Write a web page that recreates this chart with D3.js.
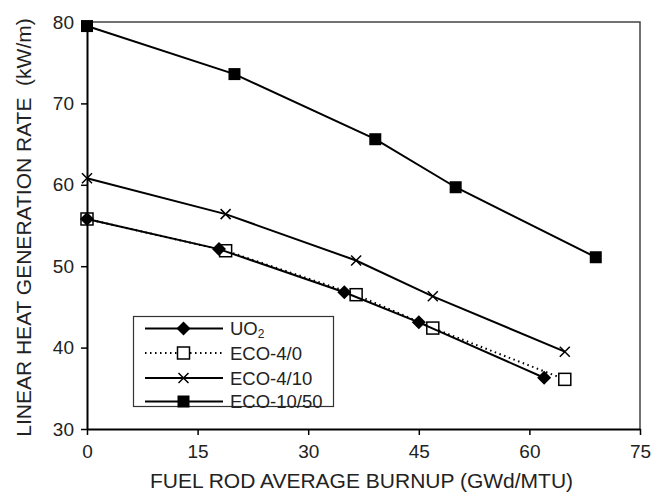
<!DOCTYPE html>
<html>
<head>
<meta charset="utf-8">
<script src="https://cdn.jsdelivr.net/npm/d3@7"></script>
<style>
  html, body { margin: 0; padding: 0; background: #fff; }
  svg { display: block; font-family: "Liberation Sans", Arial, sans-serif; }
</style>
</head>
<body>
<svg id="chart" width="652" height="494"></svg>
<script>
// ---- data ----
const xTicks = [0, 15, 30, 45, 60, 75];
const yTicks = [30, 40, 50, 60, 70, 80];
const seriesNames = ["UO2", "ECO-4/0", "ECO-4/10", "ECO-10/50"];
const burnupUO2 = [0, 17.9, 34.9, 45.0, 62.0];
const rateUO2 = [55.8, 52.1, 46.8, 43.1, 36.3];
const burnupECO40 = [0, 18.8, 36.5, 46.9, 64.8];
const rateECO40 = [55.8, 51.9, 46.5, 42.4, 36.1];
const burnupECO410 = [0, 18.8, 36.5, 46.9, 64.8];
const rateECO410 = [60.8, 56.4, 50.7, 46.3, 39.5];
const burnupECO1050 = [0, 20.0, 39.1, 50.0, 69.0];
const rateECO1050 = [79.5, 73.6, 65.6, 59.7, 51.1];
const xTitle = "FUEL ROD AVERAGE BURNUP (GWd/MTU)";
const yTitle = "LINEAR HEAT GENERATION RATE  (kW/m)";

const series = [
  { name: seriesNames[0], x: burnupUO2, y: rateUO2, marker: "diamond", dash: null, z: 3 },
  { name: seriesNames[1], x: burnupECO40, y: rateECO40, marker: "openSquare", dash: "1.5,3.5", z: 2 },
  { name: seriesNames[2], x: burnupECO410, y: rateECO410, marker: "cross", dash: null, z: 1 },
  { name: seriesNames[3], x: burnupECO1050, y: rateECO1050, marker: "square", dash: null, z: 0 }
];

const W = 652, H = 494;
const margin = { left: 87, top: 22, right: 12, bottom: 65 };
const svg = d3.select("#chart");

const x = d3.scaleLinear().domain([0, 75]).range([margin.left, W - margin.right]);
const y = d3.scaleLinear().domain([30, 80]).range([H - margin.bottom, margin.top]);

// plot frame (top/right)
svg.append("path")
  .attr("d", `M${x(0)},${y(80)} H${x(75)} V${y(30)}`)
  .attr("fill", "none").attr("stroke", "#444").attr("stroke-width", 1.5);

// axes
const xAxis = svg.append("g")
  .attr("transform", `translate(0,${y(30)})`)
  .call(d3.axisBottom(x).tickValues(xTicks).tickSize(6).tickSizeOuter(0).tickPadding(10));
const yAxis = svg.append("g")
  .attr("transform", `translate(${x(0)},0)`)
  .call(d3.axisLeft(y).tickValues(yTicks).tickSize(6).tickSizeOuter(0).tickPadding(7));
[xAxis, yAxis].forEach(g => {
  g.select(".domain").attr("stroke", "#000").attr("stroke-width", 2);
  g.selectAll(".tick line").attr("stroke", "#000").attr("stroke-width", 1.5);
  g.selectAll(".tick text").attr("fill", "#222").style("font-size", "19px")
    .style("font-family", "'Liberation Sans', Arial, sans-serif");
});

// titles
svg.append("text")
  .attr("x", (x(0) + x(75)) / 2 - 2).attr("y", 488)
  .attr("text-anchor", "middle").attr("fill", "#222")
  .style("font-size", "21px").text(xTitle);
svg.append("text")
  .attr("transform", `translate(31,${(y(30) + y(80)) / 2 + 2}) rotate(-90)`)
  .attr("text-anchor", "middle").attr("fill", "#222")
  .style("font-size", "21px").style("white-space", "pre").text(yTitle);

// markers
function drawMarker(g, type, cx, cy) {
  if (type === "diamond") {
    g.append("path").attr("d", `M${cx},${cy - 7} L${cx + 7},${cy} L${cx},${cy + 7} L${cx - 7},${cy} Z`)
      .attr("fill", "#000");
  } else if (type === "openSquare") {
    g.append("rect").attr("x", cx - 6).attr("y", cy - 6).attr("width", 12).attr("height", 12)
      .attr("fill", "#fff").attr("stroke", "#000").attr("stroke-width", 1.5);
  } else if (type === "cross") {
    g.append("path").attr("d", `M${cx - 5},${cy - 5} L${cx + 5},${cy + 5} M${cx - 5},${cy + 5} L${cx + 5},${cy - 5}`)
      .attr("stroke", "#000").attr("stroke-width", 1.5).attr("fill", "none");
  } else if (type === "square") {
    g.append("rect").attr("x", cx - 6).attr("y", cy - 6).attr("width", 12).attr("height", 12)
      .attr("fill", "#000");
  }
}

const line = d3.line().x(d => x(d[0])).y(d => y(d[1]));
series.slice().sort((a, b) => a.z - b.z).forEach(s => {
  const pts = s.x.map((v, i) => [v, s.y[i]]);
  const g = svg.append("g");
  g.append("path").attr("d", line(pts))
    .attr("fill", "none").attr("stroke", "#000")
    .attr("stroke-width", 2)
    .attr("stroke-dasharray", s.dash);
  pts.forEach(p => drawMarker(g, s.marker, x(p[0]), y(p[1])));
});

// legend
const lg = svg.append("g");
lg.append("rect").attr("x", 133.5).attr("y", 316.5).attr("width", 200).attr("height", 90)
  .attr("fill", "#fff").attr("stroke", "#333").attr("stroke-width", 1.2);
const legendY = [328.5, 353, 378, 401.5];
series.forEach((s, i) => {
  const ly = legendY[i];
  lg.append("line").attr("x1", 145).attr("x2", 223).attr("y1", ly).attr("y2", ly)
    .attr("stroke", "#000").attr("stroke-width", 2).attr("stroke-dasharray", s.dash);
  drawMarker(lg, s.marker, 183.5, ly);
  const t = lg.append("text").attr("x", 230).attr("y", ly + 6.5).attr("fill", "#222")
    .style("font-size", "18.5px");
  if (s.name === "UO2") {
    t.append("tspan").text("UO");
    t.append("tspan").attr("dy", 3).style("font-size", "12px").text("2");
  } else {
    t.text(s.name);
  }
});
</script>
</body>
</html>
